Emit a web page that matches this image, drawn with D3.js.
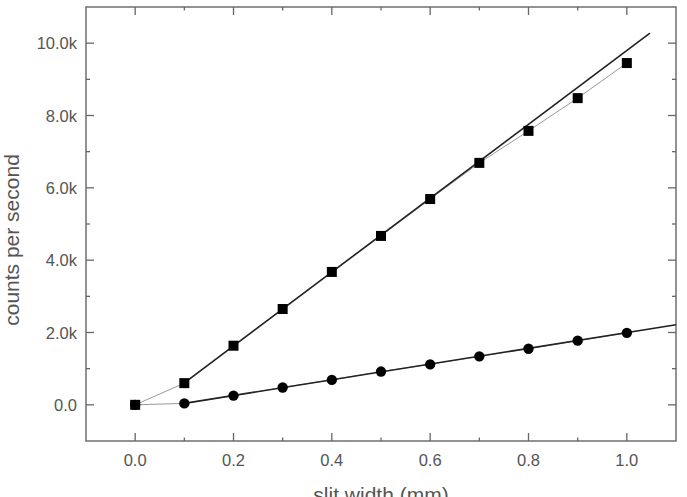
<!DOCTYPE html>
<html><head><meta charset="utf-8">
<script src="https://cdn.jsdelivr.net/npm/d3@7"></script>
<style>body{margin:0;background:#fff}svg{display:block}text{font-family:"Liberation Sans",Arial,sans-serif;fill:#555}</style>
</head><body><svg id="c" width="687" height="497"></svg>
<script>
const slitWidths=[0,0.1,0.2,0.3,0.4,0.5,0.6,0.7,0.8,0.9,1.0];
const squareCounts=[0,600,1635,2650,3675,4670,5690,6690,7575,8480,9450];
const circleCounts=[0,40,255,480,690,920,1120,1340,1550,1775,1990];
const squareFit=[[0.1,610],[1.047,10277]];
const circleFit=[[0.1,40],[1.1,2216]];
const xTicks=[0,0.2,0.4,0.6,0.8,1.0];
const yTicks=[0,2000,4000,6000,8000,10000];
const xLabel="slit width (mm)", yLabel="counts per second";

const svg=d3.select("#c");
const L=86,R=676,T=7,B=441;
const x=d3.scaleLinear().domain([-0.1,1.1]).range([L,R]);
const y=d3.scaleLinear().domain([-1000,11000]).range([B,T]);
const fmtY=v=>v===0?"0.0":(v/1000).toFixed(1)+"k";
const xMinor=d3.range(0,11).map(i=>i/10);
const yMinor=d3.range(0,11).map(i=>i*1000);

const g=svg.append("g");
g.append("rect").attr("x",L).attr("y",T).attr("width",R-L).attr("height",B-T)
 .attr("fill","none").attr("stroke","#777").attr("stroke-width",1.6);
const tk=g.append("g").attr("stroke","#666").attr("stroke-width",1.3);
xMinor.forEach((v,i)=>{const len=i%2===0?8:3.5;
 tk.append("line").attr("x1",x(v)).attr("x2",x(v)).attr("y1",B).attr("y2",B-len);
 tk.append("line").attr("x1",x(v)).attr("x2",x(v)).attr("y1",T).attr("y2",T+len);});
yMinor.forEach((v,i)=>{const len=i%2===0?8:4;
 tk.append("line").attr("y1",y(v)).attr("y2",y(v)).attr("x1",L).attr("x2",L+len);
 tk.append("line").attr("y1",y(v)).attr("y2",y(v)).attr("x1",R).attr("x2",R-len);});
xTicks.forEach(v=>g.append("text").attr("x",x(v)).attr("y",466).attr("text-anchor","middle")
 .attr("font-size",16.5).text(v.toFixed(1)));
yTicks.forEach(v=>g.append("text").attr("x",77).attr("y",y(v)+6).attr("text-anchor","end")
 .attr("font-size",16.5).text(fmtY(v)));
g.append("text").attr("x",(L+R)/2).attr("y",502).attr("text-anchor","middle").attr("font-size",21).text(xLabel);
g.append("text").attr("transform",`translate(19,240) rotate(-90)`).attr("text-anchor","middle").attr("font-size",21).text(yLabel);

const line=d3.line().x(d=>x(d[0])).y(d=>y(d[1]));
const sq=slitWidths.map((v,i)=>[v,squareCounts[i]]);
const ci=slitWidths.map((v,i)=>[v,circleCounts[i]]);
g.append("path").attr("d",line(sq)).attr("fill","none").attr("stroke","#999").attr("stroke-width",1);
g.append("path").attr("d",line(ci)).attr("fill","none").attr("stroke","#999").attr("stroke-width",1);
g.append("path").attr("d",line(squareFit)).attr("fill","none").attr("stroke","#222").attr("stroke-width",1.6);
g.append("path").attr("d",line(circleFit)).attr("fill","none").attr("stroke","#222").attr("stroke-width",1.6);
g.selectAll("rect.sq").data(sq).enter().append("rect").attr("class","sq")
 .attr("x",d=>x(d[0])-5).attr("y",d=>y(d[1])-5).attr("width",10).attr("height",10).attr("fill","#000");
g.selectAll("circle.ci").data(ci).enter().append("circle").attr("class","ci")
 .attr("cx",d=>x(d[0])).attr("cy",d=>y(d[1])).attr("r",5.2).attr("fill","#000");
</script></body></html>
